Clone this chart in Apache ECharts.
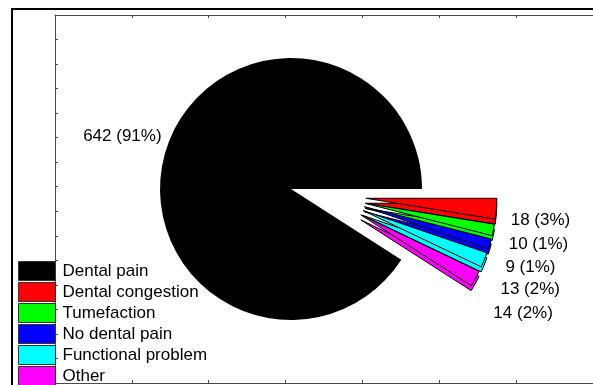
<!DOCTYPE html>
<html lang="en">
<head>
    <meta charset="UTF-8">
    <title>Reasons for consultation</title>
    <script src="https://cdn.jsdelivr.net/npm/echarts@6/dist/echarts.min.js"></script>
    <style>
        html, body { margin: 0; padding: 0; background: #fff; }
    </style>
</head>
<body>
<div id="main" style="width: 593px;height:385px;"></div>
<script>
    // data
    var categories = ['Dental pain', 'Dental congestion', 'Tumefaction', 'No dental pain', 'Functional problem', 'Other'];
    var counts = [642, 18, 10, 9, 13, 14];
    var colors = ['#000000', '#ff0000', '#00ff00', '#0000ff', '#00ffff', '#ff00ff'];

    var total = counts.reduce(function (a, b) { return a + b; }, 0);
    var font = 'Liberation Sans, Arial, sans-serif';
    var hidden = 'rgba(0,0,0,0)';

    // keep(i) says which slices a series really draws, the rest stay invisible
    function pieData(keep, withLabel) {
        var out = [];
        for (var i = 0; i < categories.length; i++) {
            var on = keep(i);
            out.push({
                name: categories[i],
                value: counts[i],
                selected: on && i > 0,
                itemStyle: on ? { color: colors[i] } : { color: hidden, borderWidth: 0 },
                label: { show: on && withLabel }
            });
        }
        return out;
    }

    var pieBase = {
        type: 'pie',
        radius: 131,
        clockwise: true,
        startAngle: 360 * counts[0] / total,
        percentPrecision: 0,
        silent: true,
        selectedMode: 'multiple',
        selectedOffset: 41,
        emphasis: { disabled: true },
        label: {
            position: 'outside',
            formatter: '{c} ({d}%)',
            color: '#000',
            fontSize: 17,
            lineHeight: 13,
            fontFamily: font
        },
        labelLine: { show: false, length: 8, length2: 6 }
    };

    var axisStyle = {
        show: true,
        lineStyle: { color: '#4a4a4a', width: 1 }
    };
    var tickStyle = { inside: true, length: 3, lineStyle: { color: '#4a4a4a' } };

    var myChart = echarts.init(document.getElementById('main'));
    var option = {
        animation: false,
        graphic: [{
            type: 'rect',
            shape: { x: 12, y: 9, width: 700, height: 500 },
            style: { fill: 'none', stroke: '#000', lineWidth: 2 },
            z: 0
        }],
        grid: { left: 55, top: 15, right: -10, bottom: 2 },
        xAxis: [
            { type: 'value', min: 0, max: 7, interval: 1, position: 'bottom',
              axisLine: axisStyle, axisTick: tickStyle,
              axisLabel: { show: false }, splitLine: { show: false } },
            { type: 'value', min: 0, max: 7, interval: 1, position: 'top',
              axisLine: axisStyle, axisTick: tickStyle,
              axisLabel: { show: false }, splitLine: { show: false } }
        ],
        yAxis: [
            { type: 'value', min: 0, max: 15, interval: 1, position: 'left',
              axisLine: axisStyle, axisTick: tickStyle,
              axisLabel: { show: false }, splitLine: { show: false } }
        ],
        legend: {
            orient: 'vertical',
            left: 18,
            top: 261,
            height: 200,
            padding: 0,
            itemWidth: 37,
            itemHeight: 19,
            itemGap: 1,
            icon: 'rect',
            selectedMode: false,
            textStyle: { fontSize: 17, fontFamily: font, color: '#000', lineHeight: 19, padding: [0, 0, 0, 2] },
            data: categories.map(function (n, i) {
                return { name: n, itemStyle: { color: colors[i], borderColor: '#333', borderWidth: 1 } };
            })
        },
        series: [
            // main slice
            Object.assign({}, pieBase, {
                name: 'main',
                center: [291, 189],
                data: pieData(function (i) { return i === 0; }, true),
                labelLine: { show: false, length: 8, length2: 0 },
                labelLayout: { dx: 9, dy: -14 }
            }),
            // thickness of the pulled-out slices
            Object.assign({}, pieBase, {
                name: 'depth',
                center: [325, 200],
                z: 1,
                itemStyle: { borderColor: '#000', borderWidth: 1 },
                data: pieData(function (i) { return i > 0; }, false)
            }),
            // pulled-out slices
            Object.assign({}, pieBase, {
                name: 'pulled',
                center: [325, 195],
                z: 3,
                itemStyle: { borderColor: '#000', borderWidth: 1 },
                data: pieData(function (i) { return i > 0; }, true),
                labelLayout: { dy: 11 }
            })
        ]
    };

    myChart.setOption(option);
</script>
</body>
</html>
